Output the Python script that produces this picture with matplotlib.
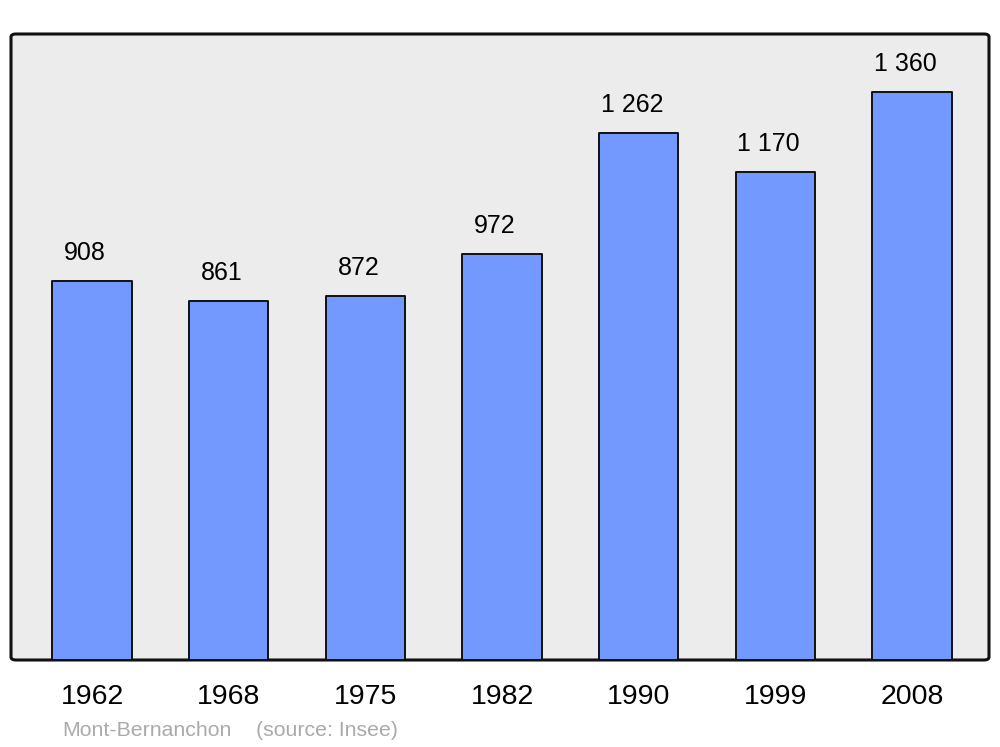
import matplotlib
matplotlib.use("Agg")
import matplotlib.pyplot as plt
from matplotlib.patches import FancyBboxPatch

years = ["1962", "1968", "1975", "1982", "1990", "1999", "2008"]
population = [908, 861, 872, 972, 1262, 1170, 1360]
value_labels = ["908", "861", "872", "972", "1 262", "1 170", "1 360"]
town = "Mont-Bernanchon"
source = "(source: Insee)"

plt.rcParams['font.family'] = ['Liberation Sans', 'DejaVu Sans']

fig = plt.figure(figsize=(10, 7.47), dpi=100)
ax = fig.add_axes([0.011, 87/747, 0.978, 626/747])
ax.set_facecolor('none')

# rounded frame
frame = FancyBboxPatch((0, 0), 1, 1,
                       boxstyle="round,pad=0,rounding_size=0.005",
                       transform=ax.transAxes, facecolor='#ececec',
                       edgecolor='#111111', linewidth=2.2, zorder=0,
                       clip_on=False)
ax.add_patch(frame)

x = list(range(len(years)))
bars = ax.bar(x, population, width=0.58, color='#7399ff', edgecolor='#111111',
              linewidth=1.4, zorder=2)
for b in bars:
    b.set_joinstyle('round')

for xi, v, lab in zip(x, population, value_labels):
    ax.annotate(lab, (xi, v), xytext=(-5, 11.5), textcoords='offset points',
                ha='center', va='bottom', fontsize=18, color='black')

ax.set_xlim(-0.593, 6.563)
ax.set_ylim(0, 1500)
ax.set_xticks(x)
ax.set_xticklabels(years, fontsize=20.5)
ax.tick_params(axis='x', length=0, pad=17)
ax.set_yticks([])
for s in ax.spines.values():
    s.set_visible(False)

fig.text(62/1000, 1 - 730/747, town, fontsize=15.3, color='#aaaaaa', va='center', ha='left')
fig.text(256/1000, 1 - 730/747, source, fontsize=15.3, color='#aaaaaa', va='center', ha='left')

fig.savefig("out.png", dpi=100, facecolor='white')
